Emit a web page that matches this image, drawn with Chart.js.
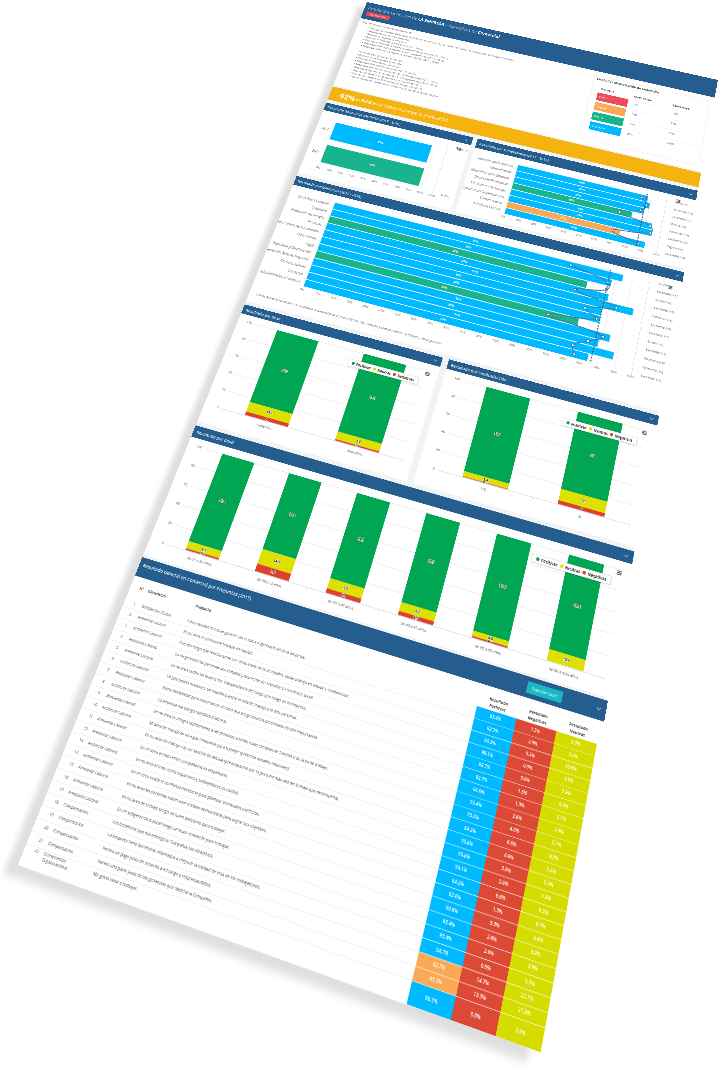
<!DOCTYPE html>
<html lang="es">
<head>
<meta charset="utf-8">
<title>Resultados Generales</title>
<script src="https://cdn.jsdelivr.net/npm/chart.js@4"></script>
<style>
html, body { margin: 0; background: #fff; overflow: hidden; width: 720px; height: 1075px; }
#sheet { position: absolute; left: 0; top: 0; width: 1000px; height: 2000px; background: #f2f3f5; transform-origin: 0 0;
  box-shadow: -20px 18px 12px rgba(0,0,0,.13); font-family: "Open Sans", sans-serif; color: #555; }
#sheet > * { position: absolute; }
.white { background: #fff; }
.bar { background: #255e8e; color: #e4edf5; font-size: 9.5px; font-weight: 600; box-sizing: border-box; padding-left: 8px; display: flex; align-items: center; }
.bar i { position: absolute; right: 12px; top: 50%; width: 5px; height: 5px; margin-top: -5px; border: solid #dfe8f0; border-width: 0 1.5px 1.5px 0; transform: rotate(45deg); }
.menu { width: 10px; height: 8px; border-top: 2px solid #666; border-bottom: 2px solid #666; box-sizing: border-box; }
.menu::after { content: ""; display: block; height: 1.5px; margin-top: 1.2px; background: #666; }
.legend { background: #fff; border: 1px solid #ddd; box-shadow: 1px 1px 2px rgba(0,0,0,.15); display: flex; align-items: center; justify-content: space-around;
  font-size: 8px; font-weight: 700; color: #333; padding: 0 6px; box-sizing: border-box; }
.legend b { display: inline-block; width: 7px; height: 7px; border-radius: 50%; margin-right: 4px; }
.rowline { left: 0; width: 757px; height: 1px; background: #eceef1; }
.cell { white-space: nowrap; font-size: 7.5px; line-height: 9px; color: #555; }
.head { font-weight: 700; color: #444; }
.colhead { width: 50px; text-align: center; white-space: normal; line-height: 11px; }
#list { left: 31px; top: 76px; margin: 0; padding: 0; list-style: none; font-size: 8px; line-height: 10px; color: #666; white-space: nowrap; }
.cat { left: 694px; width: 84px; height: 24px; color: #fff; font-size: 8px; line-height: 24px; padding-left: 6px; box-sizing: border-box; }
</style>
</head>
<body>
<div id="sheet">
  <div class="white" style="left:0;top:0;width:1000px;height:280px"></div>
  <div class="bar" style="left:0;top:0;width:1000px;height:56px;align-items:flex-start;padding:9px 10px;font-size:12.5px;font-weight:400;color:#b9cde0">
    <span>Resultados Generales de <strong style="color:#fff">LA EMPRESA</strong> y específicos de <strong style="color:#fff">Comercial</strong></span></div>
  <div style="left:11px;top:30px;width:68px;height:14px;background:#e84b55;color:#fff;font-size:7.5px;line-height:14px;text-align:center">Generar PDF</div>
  <div style="left:10px;top:61px;font-size:8px;color:#666">Este informe muestra los resultados de:</div>
  <ul id="list"></ul>

  <div style="left:675px;top:69px;width:315px;height:196px;border:1px solid #e8e8e8;box-sizing:border-box"></div>
  <div class="head" style="left:682px;top:72px;font-size:9px">Escala de categorización de resultados</div>
  <div class="head" style="left:700px;top:102px;font-size:7.5px">Categoría</div>
  <div class="head" style="left:790px;top:102px;font-size:7.5px">Rango Menor</div>
  <div class="head" style="left:895px;top:102px;font-size:7.5px">Rango Mayor</div>
  <div class="cat" style="top:120px;background:#ee4c5a">Crítico</div>
  <div class="cat" style="top:150px;background:#fba956">Regular</div>
  <div class="cat" style="top:180px;background:#19b48e">Bueno</div>
  <div class="cat" style="top:210px;background:#00baff">Excelente</div>
  <div id="scaleValues"></div>

  <div style="left:0;top:284px;width:1000px;height:41px;background:#f5b30f;color:#fff;font-size:12px;font-style:italic;display:flex;align-items:center;box-sizing:border-box;padding-left:28px;white-space:pre"><b style="font-size:21px;font-style:normal">92%</b> es <b>FELIZ</b> en su trabajo (+3 respecto al año 2016)</div>

  <div class="white" style="left:0;top:335px;width:408px;height:212px"></div>
  <div class="bar" style="left:0;top:335px;width:408px;height:23px">Resultado General LA EMPRESA (2017 - 2016)<i></i></div>
  <canvas id="genChart" width="408" height="177" style="left:0;top:358px"></canvas>
  <div class="menu" style="left:376px;top:373px"></div>

  <div class="white" style="left:420px;top:335px;width:580px;height:212px"></div>
  <div class="bar" style="left:420px;top:335px;width:580px;height:27px">Resultado por Dimensiones (2017 - 2016)<i></i></div>
  <canvas id="dimChart" width="580" height="183" style="left:420px;top:362px"></canvas>
  <div class="menu" style="left:952px;top:372px"></div>

  <div class="white" style="left:0;top:556px;width:1000px;height:338px"></div>
  <div class="bar" style="left:0;top:556px;width:1003px;height:25px">Resultado por Gerencias (2017 - 2016)<i></i></div>
  <canvas id="gerChart" width="1000" height="275" style="left:0;top:581px"></canvas>
  <div class="menu" style="left:972px;top:598px"></div>
  <div style="left:16px;top:866px;font-size:8px;color:#666;white-space:nowrap">*Otras Áreas General incluye: Auditoría, Asuntos Corporativos, Planific. Etc, Gestión y Riesgo, Gestión y Riesgo y otros general</div>

  <div class="white" style="left:0;top:903px;width:495px;height:278px"></div>
  <div class="bar" style="left:0;top:903px;width:495px;height:22px">Resultado por Sexo<i></i></div>
  <canvas id="sexChart" width="495" height="250" style="left:0;top:925px"></canvas>
  <div class="legend" style="left:284px;top:960px;width:171px;height:17px"><span><b style="background:#00a651"></b>Positivas</span><span><b style="background:#dde000"></b>Neutras</span><span><b style="background:#e03f2b"></b>Negativas</span></div>
  <div class="menu" style="left:466px;top:944px"></div>

  <div class="white" style="left:510px;top:903px;width:495px;height:278px"></div>
  <div class="bar" style="left:510px;top:903px;width:495px;height:22px">Resultado por Sindicalización<i></i></div>
  <canvas id="sinChart" width="495" height="250" style="left:510px;top:925px"></canvas>
  <div class="legend" style="left:796px;top:962px;width:171px;height:17px"><span><b style="background:#00a651"></b>Positivas</span><span><b style="background:#dde000"></b>Neutras</span><span><b style="background:#e03f2b"></b>Negativas</span></div>
  <div class="menu" style="left:975px;top:944px"></div>

  <div class="white" style="left:0;top:1190px;width:1005px;height:272px"></div>
  <div class="bar" style="left:0;top:1190px;width:1005px;height:25px">Resultado por Edad<i></i></div>
  <canvas id="edadChart" width="1000" height="245" style="left:0;top:1215px"></canvas>
  <div class="legend" style="left:797px;top:1248px;width:171px;height:17px"><span><b style="background:#00a651"></b>Positivas</span><span><b style="background:#dde000"></b>Neutras</span><span><b style="background:#e03f2b"></b>Negativas</span></div>
  <div class="menu" style="left:977px;top:1234px"></div>

  <div class="white" style="left:0;top:1467px;width:1005px;height:533px"></div>
  <div class="bar" style="left:0;top:1467px;width:1006px;height:36px;align-items:flex-start;padding-top:7px">Resultado General en Comercial por Preguntas (2017)<i></i></div>
  <div style="left:845px;top:1475px;width:72px;height:20px;background:#17b9c4;color:#fff;font-size:8px;line-height:20px;text-align:center">Exportar Excel</div>
  <div class="cell head" style="left:20px;top:1518px">N°</div>
  <div class="cell head" style="left:39px;top:1518px">Dimensión</div>
  <div class="cell head" style="left:146px;top:1518px">Pregunta</div>
  <div class="cell head colhead" style="left:772px;top:1518px">Resultado Positivas</div>
  <div class="cell head colhead" style="left:853px;top:1518px">Resultado Negativas</div>
  <div class="cell head colhead" style="left:934px;top:1518px">Resultado Neutras</div>
  <div id="rows"></div>
  <canvas id="cellChart" width="243" height="458" style="left:757px;top:1542px"></canvas>
</div>

<script>
// Corners of the tilted sheet on the page
const sheetW = 1000, sheetH = 2000;
const corners = [[367, 2], [718, 80], [541, 1053], [18, 865]];

// Top text
const listLines = [
  "Foco de Resultados Generales de clima en la compañía y la Gerencia Comercial, desglosado de la Agencia Norte.",
  "Resultados General La Empresa", "Resultado General La Empresa", "Resultado General La Empresa (2017 - 2016)",
  "Resultado General La Empresa según Dimensiones (2017 - 2016)", "Resultado General La Empresa por Subgerencias (2017 - 2016)",
  "Resultado General La Empresa por Gerencias (2017 - 2016)", "",
  "Foco de Resultados en Comercial", "Resultado de Felicidad Comercial", "Resultado General en Comercial",
  "Resultado General en Comercial (2017 - 2016)", "Resultado General en Comercial por Dimensiones (2017 - 2016)",
  "Resultado General en Comercial por Subgerencias (2017 - 2016)", "Resultado General en Comercial por Subáreas (2017)",
  "Resultado General en Comercial por Preguntas (2017)", "Conclusiones en Comercial: Fortalezas y Oportunidades de Mejora."
];
const scaleLow = ["0%", "60%", "75%", "85%"];
const scaleHigh = ["60%", "75%", "85%", "100%"];

// Resultado General
const genLabels = ["2017", "2016"];
const genValues = [87, 87];
const genColors = ["#00baff", "#19b48e"];
const genRight = ["Excelente", "Bueno"];

// Resultado por Dimensiones
const dimLabels = ["Relación con la Jefatura", "Comunicación", "Efectividad de la Empresa", "Desarrollo Profesional",
  "Condiciones de Trabajo", "Compromiso Organizacional", "Compensación", "Ambiente Laboral"];
const dimValues = [88, 90, 87, 80, 94, 95, 75, 92];
const dimPrev = [84, 88, 85, 72, 93, 94, 70, 88];
const dimColors = ["#00baff", "#00baff", "#00baff", "#19b48e", "#00baff", "#00baff", "#fba956", "#00baff"];
const dimRight = ["Excelente", "Excelente (+2)", "Excelente (+1)", "Bueno (+8)", "Excelente (+2)", "Excelente (+2)", "Regular (+8)", "Excelente (+4)"];
const dimAverage = 87;

// Resultado por Gerencias
const gerLabels = ["Otras Áreas General*", "Seguridad", "Prevención de Riesgos", "Personas", "Operaciones de Transmisión",
  "Operaciones", "Legal", "Ingeniería y Construcción", "Desarrollo Nuevos Negocios", "Comunicaciones", "Comercial", "Administración y Finanzas"];
const gerValues = [92, 89, 82, 89, 97, 88, 88, 82, 92, 89, 94, 87];
const gerPrev = [76, 88, 88, 79, 92, 83, 87, 73, 90, 86, 82, 83];
const gerColors = ["#00baff", "#00baff", "#19b48e", "#00baff", "#00baff", "#00baff", "#00baff", "#19b48e", "#00baff", "#00baff", "#00baff", "#00baff"];
const gerRight = ["Excelente", "Excelente (+1.5)", "Bueno (+8)", "Excelente (+5)", "Excelente (+8)", "Excelente (+5)", "Excelente (+5)", "Bueno (+9)", "Excelente (+1)", "Excelente (+4)", "Excelente (+8)", "Excelente (+6)"];
const gerAverage = 88;

// Resultado por Sexo, Sindicalización y Edad
const sexLabels = ["Femenino", "Masculino"];
const sexPos = [85.1, 89.9];
const sexNeu = [10.9, 8.3];
const sexNeg = [4.0, 1.8];
const sinLabels = ["NO", "SI"];
const sinPos = [93.7, 84.0];
const sinNeu = [5.4, 12.0];
const sinNeg = [0.9, 4.0];
const edadLabels = ["de 21 a 30 años", "de 30 a 35 años", "de 35 a 40 años", "de 40 a 45 años", "de 45 a 50 años", "de 50 a más años"];
const edadPos = [91.3, 78.3, 85.9, 87.9, 93.6, 89.6];
const edadNeu = [6.9, 14.3, 9.7, 8.2, 4.8, 10.4];
const edadNeg = [1.8, 7.4, 4.4, 3.9, 1.6, 0];

// Resultado por Preguntas
const rowNumbers = ["1","2","3","4","5","6","7","8","9","10","11","12","13","14","15","16","17","18","19","20","21","22"];
const rowDims = ["Satisfacción Global", "Ambiente Laboral", "Ambiente Laboral", "Ambiente Laboral", "Ambiente Laboral", "Ambiente Laboral",
  "Ambiente Laboral", "Ambiente Laboral", "Ambiente Laboral", "Ambiente Laboral", "Ambiente Laboral", "Ambiente Laboral", "Ambiente Laboral",
  "Ambiente Laboral", "Ambiente Laboral", "Ambiente Laboral", "Ambiente Laboral", "Compensación", "Compensación", "Compensación", "Compensación", "Compromiso Organizacional"];
const rowQuestions = [
  "Estoy satisfecho a nivel general con el clima organizacional de la empresa.",
  "En mi área se promueve trabajar en equipo.",
  "Cuando tengo que relacionarme con otras áreas de la Compañía, existe trabajo en equipo y cooperación.",
  "En mi gerencia las personas son tratadas justamente sin importar su condición social.",
  "En mi área recibo un buen trato, independiente del cargo que tengo en la empresa.",
  "Mi jefe facilita mantener un equilibrio entre la vida de trabajo y la vida personal.",
  "Existe flexibilidad para ausentarme en caso que tenga asuntos personales de alta importancia.",
  "La empresa me otorga estabilidad laboral.",
  "En mi área se integra rápidamente a las personas cuando estas cambian de función o de área de trabajo.",
  "Mi área de trabajo es un lugar motivante para trabajar (presenta desafíos laborales).",
  "En mi área de trabajo hay un sentido de familia (preocupación por la persona más allá del trabajo que desempeña).",
  "En mi área el trato entre compañeros es respetuoso.",
  "En mi área el trato entre superiores y trabajadores es cordial.",
  "En mi área existe la confianza necesaria para plantear eventuales conflictos.",
  "En mi área las personas evitan usar medios deshonestos para lograr sus objetivos.",
  "En mi área de trabajo tengo un buen ambiente para trabajar.",
  "En mi subgerencia o zonal tengo un buen ambiente para trabajar.",
  "Los beneficios que me entrega la Compañía son atractivos.",
  "La Empresa tiene beneficios orientados a mejorar la calidad de vida de los trabajadores.",
  "Recibo un pago justo de acuerdo a mi cargo y responsabilidad.",
  "Recibo una parte justa de las ganancias que obtiene la Compañía.",
  "Me gusta venir a trabajar."
];
const cellColumns = ["Positivas", "Negativas", "Neutras"];
const rowPos = [93.4, 92.7, 84.2, 96.1, 92.7, 92.7, 96.0, 93.4, 93.3, 84.2, 90.8, 90.8, 96.1, 84.2, 92.0, 90.8, 93.4, 93.4, 94.7, 62.7, 65.3, 96.1];
const rowNeg = [1.3, 3.9, 5.3, 0.0, 0.0, 1.3, 1.3, 2.6, 4.0, 6.6, 6.6, 3.9, 2.6, 6.6, 1.3, 5.3, 2.6, 2.6, 0.0, 14.7, 13.3, 0.0];
const rowNeu = [5.3, 3.9, 10.5, 3.9, 7.9, 6.6, 2.7, 3.9, 2.7, 9.2, 2.6, 5.3, 1.3, 9.2, 6.7, 3.9, 3.9, 3.9, 5.3, 22.7, 21.3, 3.9];
const rowSpans = [1, 1, 1, 1, 1, 1, 1, 1, 1, 1, 1, 1, 1, 1, 1, 1, 1, 1, 1, 1, 1, 1.63];

// Tilt the whole sheet onto its four corners
function sheetMatrix(q) {
  const [a, b, c, d] = q;
  const dx1 = b[0] - c[0], dx2 = d[0] - c[0], dx3 = a[0] - b[0] + c[0] - d[0];
  const dy1 = b[1] - c[1], dy2 = d[1] - c[1], dy3 = a[1] - b[1] + c[1] - d[1];
  const det = dx1 * dy2 - dx2 * dy1;
  const g = (dx3 * dy2 - dx2 * dy3) / det, h = (dx1 * dy3 - dx3 * dy1) / det;
  return [
    (b[0] - a[0] + g * b[0]) / sheetW, (b[1] - a[1] + g * b[1]) / sheetW, 0, g / sheetW,
    (d[0] - a[0] + h * d[0]) / sheetH, (d[1] - a[1] + h * d[1]) / sheetH, 0, h / sheetH,
    0, 0, 1, 0,
    a[0], a[1], 0, 1
  ];
}
document.getElementById("sheet").style.transform = `matrix3d(${sheetMatrix(corners).join(",")})`;

// Fill the text parts
document.getElementById("list").innerHTML = listLines.map(t => `<li>${t ? "▪ " + t : "&nbsp;"}</li>`).join("");
document.getElementById("scaleValues").innerHTML = scaleLow.map((t, i) =>
  `<div class="cell" style="position:absolute;left:795px;top:${127 + i * 30}px">${t}</div>` +
  `<div class="cell" style="position:absolute;left:900px;top:${127 + i * 30}px">${scaleHigh[i]}</div>` +
  `<div class="rowline" style="position:absolute;left:790px;width:190px;top:${120 + i * 30}px"></div>`).join("");

let rowsHtml = "", rowTop = 1542;
const rowUnit = 458 / rowSpans.reduce((a, b) => a + b, 0);
rowQuestions.forEach((q, i) => {
  const h = rowUnit * rowSpans[i], t = rowTop + (i === 21 ? 1 : 5);
  const wrap = i === 21 ? "white-space:normal;width:90px;" : "";
  rowsHtml += `<div class="rowline" style="position:absolute;top:${rowTop + h}px"></div>`;
  rowsHtml += `<div class="cell" style="position:absolute;left:20px;top:${t}px">${rowNumbers[i]}</div>`;
  rowsHtml += `<div class="cell" style="position:absolute;left:39px;top:${t}px;${wrap}">${rowDims[i]}</div>`;
  rowsHtml += `<div class="cell" style="position:absolute;left:141px;top:${t + (i === 21 ? 3 : 0)}px">${q}</div>`;
  rowTop += h;
});
document.getElementById("rows").innerHTML = rowsHtml;

Chart.defaults.font.family = "'Open Sans', sans-serif";
Chart.defaults.animation = false;
Chart.defaults.color = "#666";

const axisBlue = "#ccd6eb";
const gridGrey = "#e6e6e6";

// White percent labels in the middle of the horizontal bars
const barLabels = {
  id: "barLabels",
  afterDraw(chart) {
    const ctx = chart.ctx;
    const d = chart.data.datasets.findIndex(ds => ds.type !== "line");
    chart.getDatasetMeta(d).data.forEach((bar, i) => {
      const c = bar.getCenterPoint();
      ctx.save();
      ctx.font = "700 7.5px 'Open Sans'";
      ctx.fillStyle = "#fff";
      ctx.textAlign = "center";
      ctx.textBaseline = "middle";
      ctx.fillText(Math.round(chart.data.datasets[d].data[i]) + "%", c.x, c.y);
      ctx.restore();
    });
  }
};

// Dashed company average
const averageLine = {
  id: "averageLine",
  afterDatasetsDraw(chart, args, opts) {
    if (opts.value == null) return;
    const { ctx, chartArea, scales } = chart;
    const x = scales.x.getPixelForValue(opts.value);
    ctx.save();
    ctx.strokeStyle = "#1f5f9c";
    ctx.lineWidth = 2.5;
    ctx.setLineDash([4, 3]);
    ctx.beginPath();
    ctx.moveTo(x, chartArea.top - 4);
    ctx.lineTo(x, chartArea.bottom);
    ctx.stroke();
    ctx.restore();
  }
};

// Values with a white halo on the stacked columns
const haloLabels = {
  id: "haloLabels",
  afterDraw(chart) {
    const ctx = chart.ctx;
    chart.data.datasets.forEach((ds, d) => {
      chart.getDatasetMeta(d).data.forEach((bar, i) => {
        const v = ds.data[i];
        if (!v) return;
        const c = bar.getCenterPoint();
        ctx.save();
        ctx.font = "700 7px 'Open Sans'";
        ctx.textAlign = "center";
        ctx.textBaseline = "middle";
        ctx.lineWidth = 1.5;
        ctx.strokeStyle = "#fff";
        ctx.strokeText(v, c.x, c.y);
        ctx.fillStyle = "#222";
        ctx.fillText(v, c.x, c.y);
        ctx.restore();
      });
    });
  }
};

function horizontalChart(id, cfg) {
  const datasets = [{
    type: "bar", data: cfg.values, backgroundColor: cfg.colors,
    barPercentage: cfg.barPct, categoryPercentage: 1, order: 2
  }];
  if (cfg.prev) {
    datasets.push({
      type: "line", data: cfg.prev, borderColor: "#4f7396", borderWidth: 2.2, tension: 0.45,
      pointRadius: 3, pointBackgroundColor: "#fff", pointBorderColor: "#3d5f7f", pointBorderWidth: 1.2, order: 1
    });
  }
  return new Chart(document.getElementById(id), {
    data: { labels: cfg.labels, datasets },
    options: {
      indexAxis: "y", responsive: false,
      layout: { padding: { top: cfg.top } },
      plugins: { legend: { display: false }, tooltip: { enabled: false }, averageLine: { value: cfg.average } },
      scales: {
        x: {
          min: 0, max: 100,
          ticks: { stepSize: cfg.step, autoSkip: false, maxRotation: 0, font: { size: 7.5 }, callback: v => v + "%" },
          grid: { color: gridGrey, drawTicks: false },
          border: { display: false },
          afterFit: s => { s.height = cfg.bottom; }
        },
        y: {
          ticks: { font: { size: 8.5 }, autoSkip: false, padding: 4 },
          grid: { display: false }, border: { display: false },
          afterFit: s => { s.width = cfg.left; }
        },
        yRight: {
          type: "category", labels: cfg.right, position: "right",
          ticks: { font: { size: 7.5 }, autoSkip: false, padding: 14 },
          grid: { display: false }, border: { color: axisBlue },
          afterFit: s => { s.width = cfg.rightW; }
        }
      }
    },
    plugins: [barLabels, averageLine]
  });
}

horizontalChart("genChart", { labels: genLabels, values: genValues, colors: genColors, right: genRight, step: 10,
  barPct: 0.75, top: 17, bottom: 23, left: 45, rightW: 58 });
horizontalChart("dimChart", { labels: dimLabels, values: dimValues, prev: dimPrev, colors: dimColors, right: dimRight, average: dimAverage, step: 10,
  barPct: 0.9, top: 10, bottom: 24, left: 121, rightW: 72 });
horizontalChart("gerChart", { labels: gerLabels, values: gerValues, prev: gerPrev, colors: gerColors, right: gerRight, average: gerAverage, step: 5,
  barPct: 0.9, top: 14, bottom: 30, left: 120, rightW: 74 });

function stackedChart(id, labels, pos, neu, neg, left, right, top, bottom) {
  return new Chart(document.getElementById(id), {
    type: "bar",
    data: {
      labels,
      datasets: [
        { label: "Negativas", data: neg, backgroundColor: "#e03f2b" },
        { label: "Neutras", data: neu, backgroundColor: "#dde000" },
        { label: "Positivas", data: pos, backgroundColor: "#00a651" }
      ]
    },
    options: {
      responsive: false,
      layout: { padding: { top, right } },
      datasets: { bar: { barPercentage: 0.96, categoryPercentage: 0.5 } },
      plugins: { legend: { display: false }, tooltip: { enabled: false } },
      scales: {
        x: {
          stacked: true,
          ticks: { font: { size: 7.5 }, padding: 3 },
          grid: { drawOnChartArea: false, tickColor: axisBlue, tickLength: 5 },
          border: { color: axisBlue },
          afterFit: s => { s.height = bottom; }
        },
        y: {
          stacked: true, min: 0, max: 100,
          ticks: { stepSize: 20, font: { size: 7.5 }, padding: 8 },
          grid: { color: gridGrey, drawTicks: false },
          border: { display: false },
          afterFit: s => { s.width = left; }
        }
      }
    },
    plugins: [haloLabels]
  });
}

stackedChart("sexChart", sexLabels, sexPos, sexNeu, sexNeg, 42, 21, 16, 34);
stackedChart("sinChart", sinLabels, sinPos, sinNeu, sinNeg, 45, 20, 16, 34);
stackedChart("edadChart", edadLabels, edadPos, edadNeu, edadNeg, 41, 11, 16, 29);

// Coloured result cells: one floating bar per column, one dataset per row
let rowStart = 0;
const cellDatasets = rowPos.map((p, i) => {
  const range = [rowStart, rowStart + rowSpans[i]];
  rowStart += rowSpans[i];
  return {
    data: [range, range, range],
    cellText: [p, rowNeg[i], rowNeu[i]],
    backgroundColor: [p < 70 ? "#fba956" : "#00baff", "#dc4a36", "#d6dc00"],
    borderColor: "rgba(255,255,255,.85)",
    borderWidth: i ? { top: 1, bottom: 0, left: 0, right: 0 } : 0,
    borderSkipped: false,
    barPercentage: 1, categoryPercentage: 1, grouped: false
  };
});

new Chart(document.getElementById("cellChart"), {
  type: "bar",
  data: { labels: cellColumns, datasets: cellDatasets },
  options: {
    responsive: false,
    plugins: { legend: { display: false }, tooltip: { enabled: false } },
    scales: {
      x: { display: false },
      y: { display: false, reverse: true, min: 0, max: rowStart }
    }
  },
  plugins: [{
    id: "cellLabels",
    afterDraw(chart) {
      const ctx = chart.ctx;
      chart.data.datasets.forEach((ds, d) => {
        chart.getDatasetMeta(d).data.forEach((bar, i) => {
          const c = bar.getCenterPoint();
          ctx.save();
          ctx.font = "600 8px 'Open Sans'";
          ctx.fillStyle = "#fff";
          ctx.textAlign = "center";
          ctx.textBaseline = "middle";
          ctx.fillText(ds.cellText[i].toFixed(1) + "%", c.x, c.y);
          ctx.restore();
        });
      });
    }
  }]
});
</script>
</body>
</html>
